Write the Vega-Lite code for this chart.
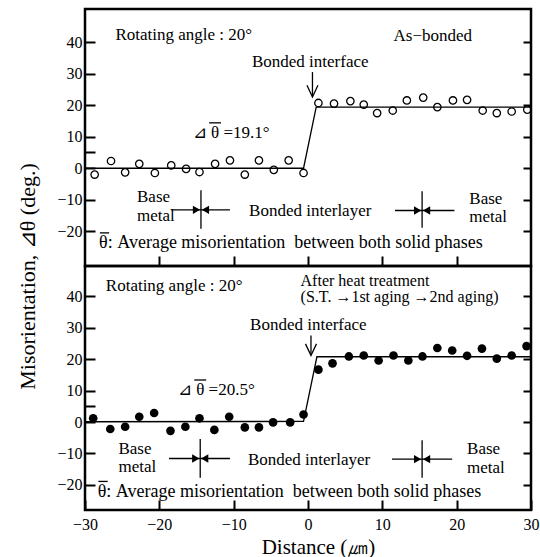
{
  "$schema": "https://vega.github.io/schema/vega-lite/v6.json",
  "padding": {"left": 14, "top": 7, "right": 0, "bottom": 48},
  "background": "white",
  "spacing": 0,
  "bounds": "flush",
  "config": {
    "view": {"stroke": "black", "strokeWidth": 2.5},
    "font": "Liberation Serif",
    "axis": {"grid": false, "domain": false, "tickColor": "black", "tickWidth": 2, "labelColor": "black", "labelFont": "Liberation Serif", "labelFontSize": 16, "titleFont": "Liberation Serif", "titleFontWeight": "normal", "titleColor": "black", "labelFlush": false, "labelOverlap": false},
    "text": {"font": "Liberation Serif", "fontSize": 17, "color": "black", "baseline": "alphabetic"}
  },
  "datasets": {
    "pts": [
      {"panel": "top", "x": -28.7, "y": -2.0}, {"panel": "top", "x": -26.5, "y": 2.3}, {"panel": "top", "x": -24.6, "y": -1.3},
      {"panel": "top", "x": -22.7, "y": 1.4}, {"panel": "top", "x": -20.6, "y": -1.5}, {"panel": "top", "x": -18.4, "y": 0.9},
      {"panel": "top", "x": -16.4, "y": -0.2}, {"panel": "top", "x": -14.6, "y": -1.2}, {"panel": "top", "x": -12.5, "y": 1.4},
      {"panel": "top", "x": -10.5, "y": 2.5}, {"panel": "top", "x": -8.5, "y": -2.0}, {"panel": "top", "x": -6.6, "y": 2.5},
      {"panel": "top", "x": -4.6, "y": -0.5}, {"panel": "top", "x": -2.6, "y": 2.5}, {"panel": "top", "x": -0.6, "y": -1.5},
      {"panel": "top", "x": 1.4, "y": 20.7}, {"panel": "top", "x": 3.5, "y": 20.5}, {"panel": "top", "x": 5.7, "y": 21.3},
      {"panel": "top", "x": 7.5, "y": 20.2}, {"panel": "top", "x": 9.3, "y": 17.5}, {"panel": "top", "x": 11.4, "y": 18.3},
      {"panel": "top", "x": 13.3, "y": 21.5}, {"panel": "top", "x": 15.5, "y": 22.4}, {"panel": "top", "x": 17.4, "y": 19.4},
      {"panel": "top", "x": 19.5, "y": 21.5}, {"panel": "top", "x": 21.4, "y": 21.7}, {"panel": "top", "x": 23.5, "y": 18.3},
      {"panel": "top", "x": 25.4, "y": 17.5}, {"panel": "top", "x": 27.4, "y": 18.0}, {"panel": "top", "x": 29.5, "y": 18.6},
      {"panel": "bottom", "x": -28.9, "y": 1.2}, {"panel": "bottom", "x": -26.6, "y": -2.2}, {"panel": "bottom", "x": -24.6, "y": -1.5},
      {"panel": "bottom", "x": -22.7, "y": 1.7}, {"panel": "bottom", "x": -20.7, "y": 2.9}, {"panel": "bottom", "x": -18.5, "y": -2.8},
      {"panel": "bottom", "x": -16.5, "y": -1.5}, {"panel": "bottom", "x": -14.6, "y": 1.2}, {"panel": "bottom", "x": -12.6, "y": -2.5},
      {"panel": "bottom", "x": -10.6, "y": 1.7}, {"panel": "bottom", "x": -8.5, "y": -1.7}, {"panel": "bottom", "x": -6.6, "y": -1.7},
      {"panel": "bottom", "x": -4.7, "y": -0.1}, {"panel": "bottom", "x": -2.4, "y": -0.1}, {"panel": "bottom", "x": -0.6, "y": 2.4},
      {"panel": "bottom", "x": 1.4, "y": 16.7}, {"panel": "bottom", "x": 3.3, "y": 18.7}, {"panel": "bottom", "x": 5.5, "y": 20.9},
      {"panel": "bottom", "x": 7.5, "y": 21.2}, {"panel": "bottom", "x": 9.5, "y": 19.6}, {"panel": "bottom", "x": 11.5, "y": 21.2},
      {"panel": "bottom", "x": 13.5, "y": 19.6}, {"panel": "bottom", "x": 15.4, "y": 20.9}, {"panel": "bottom", "x": 17.4, "y": 23.6},
      {"panel": "bottom", "x": 19.4, "y": 22.8}, {"panel": "bottom", "x": 21.4, "y": 21.1}, {"panel": "bottom", "x": 23.4, "y": 23.4},
      {"panel": "bottom", "x": 25.4, "y": 20.2}, {"panel": "bottom", "x": 27.4, "y": 21.2}, {"panel": "bottom", "x": 29.4, "y": 24.2}
    ],
    "fit": [
      {"panel": "top", "x": -30, "y": 0}, {"panel": "top", "x": -0.6, "y": 0}, {"panel": "top", "x": 1.1, "y": 19.4}, {"panel": "top", "x": 30, "y": 19.4},
      {"panel": "bottom", "x": -30, "y": 0.1}, {"panel": "bottom", "x": -0.6, "y": 0.2}, {"panel": "bottom", "x": 1.2, "y": 20.8}, {"panel": "bottom", "x": 30, "y": 20.8}
    ],
    "rules": [
      {"panel": "top", "x": 0.6, "x2": 0.6, "y": 30.5, "y2": 22.8},
      {"panel": "top", "x": -14.4, "x2": -14.4, "y": -7.0, "y2": -19.2},
      {"panel": "top", "x": -18.4, "x2": -10.5, "y": -13.2, "y2": -13.2},
      {"panel": "top", "x": 15.35, "x2": 15.35, "y": -7.3, "y2": -18.9},
      {"panel": "top", "x": 11.7, "x2": 19.7, "y": -13.4, "y2": -13.4},
      {"panel": "top", "x": -13.3, "x2": -11.7, "y": 14.4, "y2": 14.4},
      {"panel": "top", "x": -28.0, "x2": -26.75, "y": -20.5, "y2": -20.5},
      {"panel": "bottom", "x": 0.4, "x2": 0.4, "y": 27.6, "y2": 21.4},
      {"panel": "bottom", "x": -14.5, "x2": -14.5, "y": -5.4, "y2": -17.7},
      {"panel": "bottom", "x": -18.7, "x2": -10.5, "y": -11.6, "y2": -11.6},
      {"panel": "bottom", "x": 15.35, "x2": 15.35, "y": -5.8, "y2": -17.7},
      {"panel": "bottom", "x": 11.3, "x2": 19.4, "y": -11.8, "y2": -11.8},
      {"panel": "bottom", "x": -15.3, "x2": -13.7, "y": 13.4, "y2": 13.4},
      {"panel": "bottom", "x": -28.2, "x2": -26.95, "y": -18.9, "y2": -18.9}
    ],
    "tri": [
      {"panel": "top", "x": -15.0, "y": -13.2, "dir": "right"}, {"panel": "top", "x": -13.8, "y": -13.2, "dir": "left"},
      {"panel": "top", "x": 14.75, "y": -13.4, "dir": "right"}, {"panel": "top", "x": 15.95, "y": -13.4, "dir": "left"},
      {"panel": "bottom", "x": -15.1, "y": -11.6, "dir": "right"}, {"panel": "bottom", "x": -13.9, "y": -11.6, "dir": "left"},
      {"panel": "bottom", "x": 14.75, "y": -11.8, "dir": "right"}, {"panel": "bottom", "x": 15.95, "y": -11.8, "dir": "left"}
    ],
    "vhead": [
      {"panel": "top", "g": "a", "o": 1, "x": -0.14, "y": 26.3}, {"panel": "top", "g": "a", "o": 2, "x": 0.6, "y": 22.6}, {"panel": "top", "g": "a", "o": 3, "x": 1.34, "y": 26.3},
      {"panel": "bottom", "g": "b", "o": 1, "x": -0.34, "y": 24.9}, {"panel": "bottom", "g": "b", "o": 2, "x": 0.4, "y": 21.2}, {"panel": "bottom", "g": "b", "o": 3, "x": 1.14, "y": 24.9}
    ],
    "txt": [
      {"panel": "top", "kind": "L", "x": -25.9, "y": 40.6, "text": "Rotating angle : 20°"},
      {"panel": "top", "kind": "L", "x": 11.5, "y": 40.4, "text": "As−bonded"},
      {"panel": "top", "kind": "L", "x": -15.5, "y": 9.6, "text": "\u22bf \u03b8 =19.1°"},
      {"panel": "top", "kind": "L", "x": -23.0, "y": -10.8, "text": "Base"},
      {"panel": "top", "kind": "L", "x": -23.0, "y": -16.6, "text": "metal"},
      {"panel": "top", "kind": "L", "x": 21.7, "y": -11.3, "text": "Base"},
      {"panel": "top", "kind": "L", "x": 21.7, "y": -17.1, "text": "metal"},
      {"panel": "top", "kind": "A", "x": -28.1, "y": -25.4, "text": "\u03b8: Average misorientation\u00a0 between both solid phases"},
      {"panel": "top", "kind": "C", "x": 0.3, "y": 32.1, "text": "Bonded interface"},
      {"panel": "top", "kind": "C", "x": 0.3, "y": -15.2, "text": "Bonded interlayer"},
      {"panel": "bottom", "kind": "L", "x": -27.2, "y": 41.7, "text": "Rotating angle : 20°"},
      {"panel": "bottom", "kind": "S", "x": -1.0, "y": 43.3, "text": "After heat treatment"},
      {"panel": "bottom", "kind": "S", "x": -1.0, "y": 38.1, "text": "(S.T. →1st aging →2nd aging)"},
      {"panel": "bottom", "kind": "L", "x": -17.5, "y": 8.6, "text": "\u22bf \u03b8 =20.5°"},
      {"panel": "bottom", "kind": "L", "x": -25.5, "y": -10.2, "text": "Base"},
      {"panel": "bottom", "kind": "L", "x": -25.5, "y": -15.9, "text": "metal"},
      {"panel": "bottom", "kind": "L", "x": 21.4, "y": -10.3, "text": "Base"},
      {"panel": "bottom", "kind": "L", "x": 21.4, "y": -16.1, "text": "metal"},
      {"panel": "bottom", "kind": "A", "x": -28.3, "y": -23.8, "text": "\u03b8: Average misorientation\u00a0 between both solid phases"},
      {"panel": "bottom", "kind": "C", "x": 0.05, "y": 29.4, "text": "Bonded interface"},
      {"panel": "bottom", "kind": "C", "x": 0.15, "y": -13.7, "text": "Bonded interlayer"}
    ]
  },
  "vconcat": [
    {
      "width": 446,
      "height": 257,
      "resolve": {"axis": {"x": "independent", "y": "independent"}},
      "encoding": {
        "x": {"field": "x", "type": "quantitative", "scale": {"domain": [-30, 30], "nice": false, "zero": false}, "axis": null},
        "y": {"field": "y", "type": "quantitative", "scale": {"domain": [-31, 50.5], "nice": false, "zero": false}, "axis": null}
      },
      "layer": [
        {
          "data": {"name": "fit"},
          "transform": [{"filter": "datum.panel === 'top'"}],
          "mark": {"type": "line", "color": "black", "strokeWidth": 1.3},
          "encoding": {
            "x": {"field": "x", "type": "quantitative", "scale": {"domain": [-30, 30], "nice": false, "zero": false},
                  "axis": {"orient": "bottom", "values": [-20, -10, 0, 10, 20], "labels": false, "tickSize": -10, "title": null}},
            "y": {"field": "y", "type": "quantitative", "scale": {"domain": [-31, 50.5], "nice": false, "zero": false},
                  "axis": {"orient": "left", "values": [-20, -10, 0, 5, 10, 20, 30, 40], "labelExpr": "datum.value === 5 ? '' : datum.label", "tickSize": -10, "labelPadding": 13,
                           "title": "Misorientation, \u22bf\u03b8 (deg.)", "titleFontSize": 22, "titleAngle": -90, "titleX": -51, "titleY": 267, "titleAlign": "center", "titleBaseline": "alphabetic"}}
          }
        },
        {
          "data": {"name": "pts"},
          "transform": [{"filter": "datum.panel === 'top'"}],
          "mark": {"type": "point", "shape": "circle", "filled": false, "stroke": "black", "strokeWidth": 1.3, "size": 55, "opacity": 1},
          "encoding": {
            "y": {"field": "y", "type": "quantitative", "scale": {"domain": [-31, 50.5], "nice": false, "zero": false},
                  "axis": {"orient": "right", "values": [-20, -10, 0, 10, 20, 30, 40], "labels": false, "tickSize": -8, "title": null}}
          }
        },
        {
          "data": {"name": "rules"},
          "transform": [{"filter": "datum.panel === 'top'"}],
          "mark": {"type": "rule", "color": "black", "strokeWidth": 1.3},
          "encoding": {"x2": {"field": "x2"}, "y2": {"field": "y2"}}
        },
        {
          "data": {"name": "tri"},
          "transform": [{"filter": "datum.panel === 'top'"}],
          "mark": {"type": "point", "filled": true, "color": "black", "size": 70, "opacity": 1},
          "encoding": {"shape": {"field": "dir", "type": "nominal", "scale": {"domain": ["right", "left"], "range": ["triangle-right", "triangle-left"]}, "legend": null}}
        },
        {
          "data": {"name": "vhead"},
          "transform": [{"filter": "datum.panel === 'top'"}],
          "mark": {"type": "line", "color": "black", "strokeWidth": 1.3},
          "encoding": {"detail": {"field": "g"}, "order": {"field": "o", "type": "quantitative"}}
        },
        {
          "data": {"name": "txt"},
          "transform": [{"filter": "datum.panel === 'top' && datum.kind === 'L'"}],
          "mark": {"type": "text", "align": "left", "baseline": "alphabetic", "fontSize": 17},
          "encoding": {"text": {"field": "text"}}
        },
        {
          "data": {"name": "txt"},
          "transform": [{"filter": "datum.panel === 'top' && datum.kind === 'A'"}],
          "mark": {"type": "text", "align": "left", "baseline": "alphabetic", "fontSize": 18},
          "encoding": {"text": {"field": "text"}}
        },
        {
          "data": {"name": "txt"},
          "transform": [{"filter": "datum.panel === 'top' && datum.kind === 'C'"}],
          "mark": {"type": "text", "align": "center", "baseline": "alphabetic", "fontSize": 17},
          "encoding": {"text": {"field": "text"}}
        }
      ]
    },
    {
      "width": 446,
      "height": 244,
      "resolve": {"axis": {"x": "independent", "y": "independent"}},
      "encoding": {
        "x": {"field": "x", "type": "quantitative", "scale": {"domain": [-30, 30], "nice": false, "zero": false}, "axis": null},
        "y": {"field": "y", "type": "quantitative", "scale": {"domain": [-28, 49.7], "nice": false, "zero": false}, "axis": null}
      },
      "layer": [
        {
          "data": {"name": "fit"},
          "transform": [{"filter": "datum.panel === 'bottom'"}],
          "mark": {"type": "line", "color": "black", "strokeWidth": 1.3},
          "encoding": {
            "x": {"field": "x", "type": "quantitative", "scale": {"domain": [-30, 30], "nice": false, "zero": false},
                  "axis": {"orient": "bottom", "values": [-30, -20, -10, 0, 10, 20, 30], "tickSize": -10, "labelPadding": 16,
                           "title": "Distance (\u339b)", "titleFontSize": 21, "titleX": 233, "titleY": 43, "titleAlign": "center", "titleBaseline": "alphabetic"}},
            "y": {"field": "y", "type": "quantitative", "scale": {"domain": [-28, 49.7], "nice": false, "zero": false},
                  "axis": {"orient": "left", "values": [-20, -10, 0, 5, 10, 20, 30, 40], "labelExpr": "datum.value === 5 ? '' : datum.label", "tickSize": -10, "labelPadding": 13, "title": null}}
          }
        },
        {
          "data": {"name": "pts"},
          "transform": [{"filter": "datum.panel === 'bottom'"}],
          "mark": {"type": "circle", "color": "black", "size": 75, "opacity": 1},
          "encoding": {
            "y": {"field": "y", "type": "quantitative", "scale": {"domain": [-28, 49.7], "nice": false, "zero": false},
                  "axis": {"orient": "right", "values": [-20, -10, 0, 10, 20, 30, 40], "labels": false, "tickSize": -8, "title": null}}
          }
        },
        {
          "data": {"name": "rules"},
          "transform": [{"filter": "datum.panel === 'bottom'"}],
          "mark": {"type": "rule", "color": "black", "strokeWidth": 1.3},
          "encoding": {"x2": {"field": "x2"}, "y2": {"field": "y2"}}
        },
        {
          "data": {"name": "tri"},
          "transform": [{"filter": "datum.panel === 'bottom'"}],
          "mark": {"type": "point", "filled": true, "color": "black", "size": 70, "opacity": 1},
          "encoding": {"shape": {"field": "dir", "type": "nominal", "scale": {"domain": ["right", "left"], "range": ["triangle-right", "triangle-left"]}, "legend": null}}
        },
        {
          "data": {"name": "vhead"},
          "transform": [{"filter": "datum.panel === 'bottom'"}],
          "mark": {"type": "line", "color": "black", "strokeWidth": 1.3},
          "encoding": {"detail": {"field": "g"}, "order": {"field": "o", "type": "quantitative"}}
        },
        {
          "data": {"name": "txt"},
          "transform": [{"filter": "datum.panel === 'bottom' && datum.kind === 'L'"}],
          "mark": {"type": "text", "align": "left", "baseline": "alphabetic", "fontSize": 17},
          "encoding": {"text": {"field": "text"}}
        },
        {
          "data": {"name": "txt"},
          "transform": [{"filter": "datum.panel === 'bottom' && datum.kind === 'S'"}],
          "mark": {"type": "text", "align": "left", "baseline": "alphabetic", "fontSize": 16},
          "encoding": {"text": {"field": "text"}}
        },
        {
          "data": {"name": "txt"},
          "transform": [{"filter": "datum.panel === 'bottom' && datum.kind === 'A'"}],
          "mark": {"type": "text", "align": "left", "baseline": "alphabetic", "fontSize": 18},
          "encoding": {"text": {"field": "text"}}
        },
        {
          "data": {"name": "txt"},
          "transform": [{"filter": "datum.panel === 'bottom' && datum.kind === 'C'"}],
          "mark": {"type": "text", "align": "center", "baseline": "alphabetic", "fontSize": 17},
          "encoding": {"text": {"field": "text"}}
        }
      ]
    }
  ]
}
